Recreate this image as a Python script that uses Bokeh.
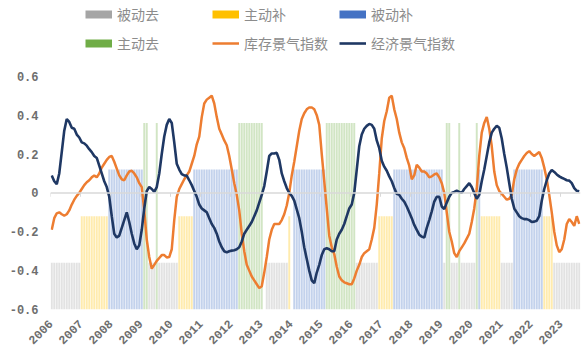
import math
import numpy as np
from bokeh.plotting import figure
from bokeh.models import Range1d, FixedTicker, Legend, LegendItem, Span, ColumnDataSource
from bokeh.embed import file_html
from bokeh.resources import INLINE

# ---------------- data ----------------
years = [str(y) for y in range(2006, 2024)]

# inventory-cycle phase per month, one string per year
# G=被动去  Y=主动补  B=被动补  R=主动去  N=none
phase_by_year = [
    "GGGGGGGGGGGG",  # 2006
    "YYYYYYYYYYYB",  # 2007
    "BBBBBBBBBBBB",  # 2008
    "BRRGGGRGGGGG",  # 2009
    "GGGYYYYYYBBB",  # 2010
    "BBBBBBBBBBBB",  # 2011
    "BBBRRRRRRRRR",  # 2012
    "RNGGGGGGGGGY",  # 2013
    "NBBBBBBBBBBB",  # 2014
    "BBRRRRRRRRRR",  # 2015
    "RRGGGGGGGGGY",  # 2016
    "YYYYYBBBBBBB",  # 2017
    "BBBBBBBBBBBB",  # 2018
    "BGRRGGGRGGGG",  # 2019
    "GGRBYYYYYYYY",  # 2020
    "GGGGGBBBBBBB",  # 2021
    "BBBBBYYYYGGG",  # 2022
    "GGGGGGGG",      # 2023
]
phase_codes = ["G", "Y", "B", "R"]
phase_names = ["被动去", "主动补", "被动补", "主动去"]
phase_levels = [-0.36, -0.12, 0.12, 0.36]
phase_colors = ["#a5a5a5", "#ffc000", "#4472c4", "#70ad47"]

# 库存景气指数 (monthly)
inventory = [
    -0.19, -0.13, -0.105, -0.10, -0.11, -0.117, -0.11, -0.09, -0.06, -0.035, -0.015, 0.0,
    0.02, 0.04, 0.055, 0.065, 0.08, 0.09, 0.08, 0.10, 0.13, 0.15, 0.17, 0.185,
    0.19, 0.16, 0.125, 0.09, 0.07, 0.065, 0.09, 0.11, 0.114, 0.10, 0.08, 0.05,
    0.03, -0.09, -0.24, -0.33, -0.39, -0.37, -0.35, -0.335, -0.32, -0.32, -0.332, -0.33,
    -0.29, -0.14, -0.02, 0.02, 0.045, 0.07, 0.09, 0.11, 0.15, 0.19, 0.25, 0.29,
    0.39, 0.46, 0.48, 0.49, 0.50, 0.46, 0.39, 0.33, 0.30, 0.27, 0.245, 0.19,
    0.12, 0.05, -0.01, -0.09, -0.21, -0.30, -0.37, -0.40, -0.43, -0.45, -0.47, -0.49,
    -0.48, -0.41, -0.33, -0.24, -0.19, -0.16, -0.16, -0.16, -0.14, -0.11, -0.065, 0.0,
    0.09, 0.16, 0.24, 0.32, 0.38, 0.41, 0.43, 0.44, 0.44, 0.43, 0.40, 0.35,
    0.20, 0.06, -0.08, -0.22, -0.28, -0.315, -0.38, -0.43, -0.45, -0.46, -0.465, -0.47,
    -0.47, -0.44, -0.40, -0.37, -0.33, -0.31, -0.30, -0.29, -0.24, -0.18, -0.06, 0.10,
    0.28, 0.37, 0.42, 0.49, 0.50, 0.43, 0.38, 0.31, 0.26, 0.23, 0.18, 0.14,
    0.07, 0.09, 0.145, 0.13, 0.11, 0.11, 0.10, 0.08, 0.085, 0.095, 0.10, 0.08,
    0.05, 0.0, -0.10, -0.20, -0.25, -0.31, -0.33, -0.30, -0.28, -0.26, -0.235, -0.21,
    -0.15, -0.08, 0.02, 0.19, 0.31, 0.36, 0.39, 0.33, 0.24, 0.11, 0.04, 0.01,
    -0.005, -0.02, -0.035, -0.03, -0.01, 0.07, 0.12, 0.15, 0.17, 0.19, 0.205, 0.215,
    0.20, 0.19, 0.20, 0.21, 0.18, 0.13, 0.07, -0.01, -0.10, -0.20, -0.27, -0.305,
    -0.29, -0.24, -0.16, -0.135, -0.15, -0.17, -0.12, -0.16,
]

# 经济景气指数 (monthly)
economy = [
    0.09, 0.06, 0.045, 0.10, 0.21, 0.32, 0.38, 0.365, 0.335, 0.33, 0.30, 0.285,
    0.26, 0.255, 0.243, 0.225, 0.21, 0.19, 0.18, 0.14, 0.10, 0.06, 0.03, -0.02,
    -0.12, -0.21, -0.23, -0.22, -0.18, -0.14, -0.10, -0.15, -0.21, -0.26, -0.29, -0.27,
    -0.19, -0.08, 0.01, 0.03, 0.02, 0.005, 0.03, 0.10, 0.20, 0.29, 0.35, 0.38,
    0.36, 0.26, 0.15, 0.12, 0.097, 0.09, 0.089, 0.065, 0.04, 0.01, -0.02, -0.06,
    -0.08, -0.09, -0.10, -0.13, -0.16, -0.18, -0.21, -0.25, -0.28, -0.30, -0.306, -0.30,
    -0.297, -0.295, -0.29, -0.28, -0.25, -0.21, -0.19, -0.17, -0.15, -0.12, -0.09, -0.05,
    -0.01, 0.035, 0.11, 0.19, 0.203, 0.203, 0.206, 0.17, 0.10, 0.06, 0.025, 0.0,
    -0.015, -0.04, -0.085, -0.13, -0.20, -0.28, -0.34, -0.40, -0.45, -0.465, -0.41, -0.37,
    -0.32, -0.29, -0.285, -0.29, -0.30, -0.30, -0.24, -0.21, -0.19, -0.16, -0.12, -0.08,
    -0.06, 0.0, 0.12, 0.24, 0.30, 0.33, 0.345, 0.355, 0.35, 0.33, 0.27, 0.23,
    0.165, 0.135, 0.114, 0.085, 0.06, 0.025, -0.005, -0.01, -0.03, -0.045, -0.07, -0.10,
    -0.13, -0.165, -0.19, -0.215, -0.225, -0.23, -0.18, -0.14, -0.095, -0.045, -0.02, -0.02,
    -0.07, -0.083, -0.05, -0.02, 0.0, 0.005, 0.011, 0.005, 0.0, 0.02, 0.035, 0.05,
    0.03, 0.0, -0.03, -0.01, 0.06, 0.12, 0.19, 0.26, 0.31, 0.33, 0.345, 0.335,
    0.28, 0.20, 0.13, 0.05, -0.03, -0.08, -0.10, -0.12, -0.13, -0.135, -0.135, -0.14,
    -0.15, -0.148, -0.143, -0.12, -0.04, 0.02, 0.065, 0.10, 0.118, 0.108, 0.095, 0.085,
    0.078, 0.072, 0.065, 0.063, 0.05, 0.025, 0.011, 0.008,
]

y_ticks = [-0.6, -0.4, -0.2, 0.0, 0.2, 0.4, 0.6]
y_labels = ["-0.6", "-0.4", "-0.2", "0", "0.2", "0.4", "0.6"]

# ---------------- figure ----------------
phase = "".join(phase_by_year)
n = len(inventory)
xc = np.arange(n) + 0.5
year_ticks = [12 * i for i in range(len(years))]

# frame spans the whole height above the axis labels; the legend lives in its top part
p = figure(width=588, height=354, output_backend="svg", toolbar_location=None,
           x_range=Range1d(0, n), y_range=Range1d(-0.6, 0.99),
           min_border_left=50, min_border_right=8, min_border_top=0, min_border_bottom=45)
p.outline_line_color = None
p.xgrid.visible = False
p.ygrid.visible = False
p.background_fill_color = "white"

# phase bars
for code, name, lvl, col in zip(phase_codes, phase_names, phase_levels, phase_colors):
    xs = [xc[i] for i in range(n) if phase[i] == code]
    src = ColumnDataSource(dict(x=xs, top=[lvl] * len(xs)))
    p.vbar(x="x", top="top", bottom=-0.6, width=0.78, source=src,
           fill_color=col, fill_alpha=0.32, line_color=None)

# zero axis line with small year ticks
p.add_layout(Span(location=0, dimension="width", line_color="#d9d9d9", line_width=1.5, level="glyph"))
p.segment(x0=year_ticks, y0=[0] * len(year_ticks), x1=year_ticks, y1=[-0.02] * len(year_ticks),
          line_color="#d9d9d9", line_width=1)

r_inv = p.line(xc, inventory, line_color="#ed7d31", line_width=2.5)
r_eco = p.line(xc, economy, line_color="#1f3864", line_width=2.6)

# legend proxies for the bar colours (a single NaN point: nothing is drawn in the plot)
proxies = []
for col in phase_colors:
    proxies.append(p.line(x=[np.nan], y=[np.nan], line_color=col, line_width=8, line_cap="butt"))

def make_legend(items, y):
    lg = Legend(items=items, orientation="horizontal", location=(35, y),
                label_text_font="Noto Sans CJK SC", label_text_font_size="14px",
                label_text_color="#8c8c8c", glyph_width=27, glyph_height=18,
                label_height=18, label_width=90, label_standoff=5, spacing=5,
                padding=0, margin=0, border_line_color=None, background_fill_alpha=0)
    return lg

leg1 = make_legend([LegendItem(label=phase_names[0], renderers=[proxies[0]], index=0),
                    LegendItem(label=phase_names[1], renderers=[proxies[1]], index=0),
                    LegendItem(label=phase_names[2], renderers=[proxies[2]], index=0)], 285)
leg2 = make_legend([LegendItem(label=phase_names[3], renderers=[proxies[3]], index=0),
                    LegendItem(label="库存景气指数", renderers=[r_inv]),
                    LegendItem(label="经济景气指数", renderers=[r_eco])], 256)
p.add_layout(leg1, "center")
p.add_layout(leg2, "center")

# axes
ya = p.yaxis[0]
ya.ticker = FixedTicker(ticks=y_ticks)
ya.major_label_overrides = {t: l for t, l in zip(y_ticks, y_labels)}
ya.axis_line_color = None
ya.major_tick_line_color = None
ya.minor_tick_line_color = None
ya.major_label_standoff = 6
ya.major_label_text_font = "Liberation Mono"
ya.major_label_text_font_style = "bold"
ya.major_label_text_font_size = "12px"
ya.major_label_text_color = "#6e6e6e"

xa = p.xaxis[0]
xa.ticker = FixedTicker(ticks=year_ticks)
xa.major_label_overrides = {t: y for t, y in zip(year_ticks, years)}
xa.major_label_orientation = math.pi / 4
xa.axis_line_color = None
xa.major_tick_line_color = None
xa.minor_tick_line_color = None
xa.major_label_standoff = 6
xa.major_label_text_font = "Liberation Mono"
xa.major_label_text_font_style = "bold"
xa.major_label_text_font_size = "12px"
xa.major_label_text_color = "#6e6e6e"

open("out.html", "w").write(file_html(p, INLINE))
